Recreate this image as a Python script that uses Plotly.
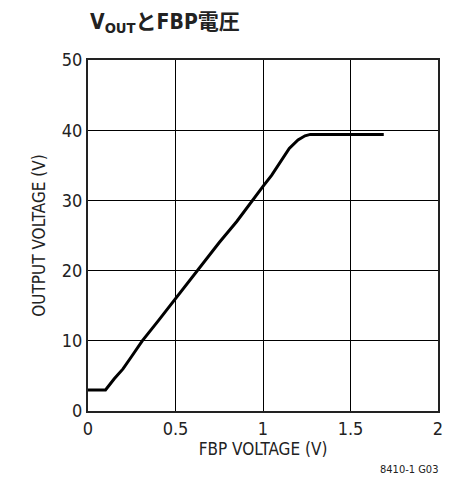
import plotly.graph_objects as go

fbp_voltage = [0.0, 0.10, 0.15, 0.20, 0.25, 0.31, 0.40, 0.50, 0.62, 0.75, 0.85, 0.937, 1.00, 1.05, 1.10, 1.15, 1.20, 1.24, 1.27, 1.69]
output_voltage = [3.0, 3.0, 4.6, 6.0, 7.8, 10.0, 12.8, 16.0, 20.0, 24.0, 27.0, 30.0, 32.0, 33.6, 35.5, 37.4, 38.6, 39.2, 39.4, 39.4]

x_ticks = [0, 0.5, 1, 1.5, 2]
x_tick_labels = ["0", "0.5", "1", "1.5", "2"]
y_ticks = [0, 10, 20, 30, 40, 50]
y_tick_labels = ["0", "10", "20", "30", "40", "50"]

FONT = "DejaVu Sans Condensed, Liberation Sans Narrow, Noto Sans CJK JP, sans-serif"

fig = go.Figure()
fig.add_trace(go.Scatter(
    x=fbp_voltage, y=output_voltage, mode="lines",
    line=dict(color="black", width=3), showlegend=False, hoverinfo="skip"))

fig.update_layout(
    width=455, height=479,
    margin=dict(l=88, r=17, t=60, b=68),
    paper_bgcolor="white", plot_bgcolor="white",
    font=dict(family=FONT, color="#222", size=18),
    xaxis=dict(range=[0, 2], tickvals=x_ticks, ticktext=x_tick_labels,
               showgrid=True, gridcolor="black", gridwidth=1,
               showline=True, linecolor="#222", linewidth=2, mirror=True,
               zeroline=False, ticks="", tickfont=dict(size=18),
               title=dict(text="FBP VOLTAGE (V)", font=dict(size=17), standoff=4)),
    yaxis=dict(range=[0, 50], tickvals=y_ticks, ticktext=y_tick_labels,
               showgrid=True, gridcolor="black", gridwidth=1,
               showline=True, linecolor="#222", linewidth=2, mirror=True,
               zeroline=False, ticks="", tickfont=dict(size=18),
               title=dict(text="OUTPUT VOLTAGE (V)", font=dict(size=17), standoff=12)),
)

fig.add_annotation(
    text="<b>V<sub>OUT</sub>とFBP電圧</b>",
    xref="paper", yref="paper", x=0, y=1, xanchor="left", yanchor="bottom",
    yshift=22, xshift=0, showarrow=False,
    font=dict(family=FONT, size=21, color="#222"))

fig.add_annotation(
    text="8410-1 G03",
    xref="paper", yref="paper", x=1, y=0, xanchor="right", yanchor="top",
    yshift=-50, xshift=2, showarrow=False,
    font=dict(family=FONT, size=11, color="#222"))

fig.write_html("out.html")
